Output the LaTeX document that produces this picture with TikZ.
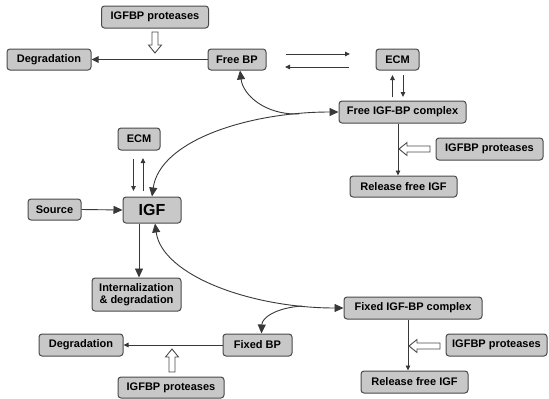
\documentclass[tikz,border=0pt]{standalone}
\usepackage{fontspec}
\setmainfont{Liberation Sans}
\usetikzlibrary{arrows.meta}
\definecolor{boxfill}{HTML}{C8C8C8}
\definecolor{boxline}{HTML}{4A4A4A}
\definecolor{lineclr}{HTML}{383838}
\newcommand\hollowarrow[3]{%
  \draw[hollow, shift={(#1)}, rotate=#2] (0,0) -- (-8,6.5) -- (-8,3) -- (-#3,3) -- (-#3,-3) -- (-8,-3) -- (-8,-6.5) -- cycle;}
\begin{document}
\begin{tikzpicture}[x=1pt,y=-1pt,
  box/.style={draw=boxline, fill=boxfill, rounded corners=3pt, line width=1pt,
    inner sep=0pt, font=\bfseries\fontsize{11}{13}\selectfont, align=center},
  conn/.style={draw=lineclr, line width=0.9pt},
  big/.style={-{Triangle[length=9pt,width=8pt]}},
  bigboth/.style={{Triangle[length=9pt,width=8pt]}-{Triangle[length=9pt,width=8pt]}},
  mid/.style={-{Triangle[length=7pt,width=6.5pt]}},
  small/.style={-{Triangle[length=5pt,width=4.5pt]}},
  hollow/.style={draw=boxline, fill=white, line width=0.9pt, line join=miter}]
\path[use as bounding box] (0,0) rectangle (549,399);

% nodes
\node[box, minimum width=107pt, minimum height=22pt] (prot1) at (155,17) {IGFBP proteases};
\node[box, minimum width=84pt, minimum height=21pt] (deg1) at (49,59.5) {Degradation};
\node[box, minimum width=58pt, minimum height=21pt] (freebp) at (237,59.5) {Free BP};
\node[box, minimum width=43pt, minimum height=21pt] (ecm1) at (397.5,59.5) {ECM};
\node[box, minimum width=127pt, minimum height=22pt] (fcomplex) at (402.5,112) {Free IGF-BP complex};
\node[box, minimum width=107pt, minimum height=22pt] (prot2) at (489.5,149) {IGFBP proteases};
\node[box, minimum width=107pt, minimum height=21pt] (rel1) at (403.5,186.5) {Release free IGF};
\node[box, minimum width=42pt, minimum height=22pt] (ecm2) at (139,139) {ECM};
\node[box, minimum width=53pt, minimum height=21pt] (source) at (54.5,209.5) {Source};
\node[box, minimum width=58pt, minimum height=26pt, font=\bfseries\fontsize{16}{18}\selectfont] (igf) at (152,210) {IGF};
\node[box, minimum width=89pt, minimum height=33pt] (intern) at (136.5,294.5) {Internalization\\[-1pt]\& degradation};
\node[box, minimum width=138pt, minimum height=22pt] (xcomplex) at (413,308) {Fixed IGF-BP complex};
\node[box, minimum width=101pt, minimum height=22pt] (prot3) at (496.5,345) {IGFBP proteases};
\node[box, minimum width=107pt, minimum height=22pt] (rel2) at (414.5,382) {Release free IGF};
\node[box, minimum width=84pt, minimum height=22pt] (deg2) at (81,345) {Degradation};
\node[box, minimum width=69pt, minimum height=22pt] (fixedbp) at (257.5,345) {Fixed BP};
\node[box, minimum width=106pt, minimum height=21pt] (prot4) at (171,387.5) {IGFBP proteases};

% free ends of the short exchange arrows
\coordinate (h1a) at (286,54); \coordinate (h1b) at (350,54);
\coordinate (h2a) at (349,67); \coordinate (h2b) at (285,67);
\coordinate (e1a) at (392.5,97); \coordinate (e1b) at (392.5,75);
\coordinate (e1c) at (403,75);   \coordinate (e1d) at (403,97);
\coordinate (e2a) at (133.5,159); \coordinate (e2b) at (133.5,191);
\coordinate (e2c) at (143,191);   \coordinate (e2d) at (143,158);

% straight connectors
\draw[conn, mid] (freebp.west) -- (deg1.east);
\draw[conn, small] (h1a) -- (h1b);
\draw[conn, small] (h2a) -- (h2b);
\draw[conn, small] (e1a) -- (e1b);
\draw[conn, small] (e1c) -- (e1d);
\draw[conn, small] ([xshift=-4.5pt]fcomplex.south) -- ([xshift=-5.5pt]rel1.north);
\draw[conn, small] (e2a) -- (e2b);
\draw[conn, small] (e2c) -- (e2d);
\draw[conn, big] (source.east) -- (igf.west);
\draw[conn, big] ([xshift=-13pt]igf.south) -- ([xshift=2.5pt]intern.north);
\draw[conn, small] (fixedbp.west) -- (deg2.east);
\draw[conn, small] ([xshift=-5pt]xcomplex.south) -- ([xshift=-6.5pt]rel2.north);

% curved connectors
\draw[conn, bigboth] (igf.north) .. controls (160,140) and (250,112) .. (fcomplex.west);
\coordinate (j1) at (299,114);
\draw[conn, big] (j1) .. controls (265,115) and (243,95) .. ([xshift=3pt]freebp.south);
\draw[conn, bigboth] ([xshift=3pt]igf.south) .. controls (162,275) and (250,308) .. (xcomplex.west);
\coordinate (j2) at (302,306);
\draw[conn, big] (j2) .. controls (275,308) and (262,318) .. ([xshift=4pt]fixedbp.north);

% hollow (protease) arrows
\coordinate (t1) at (155,53);
\coordinate (t2) at (399,149);
\coordinate (t3) at (409,346);
\coordinate (t4) at (172,349);
\hollowarrow{t1}{-90}{21}
\hollowarrow{t2}{180}{31}
\hollowarrow{t3}{180}{31}
\hollowarrow{t4}{90}{23}
\end{tikzpicture}
\end{document}
